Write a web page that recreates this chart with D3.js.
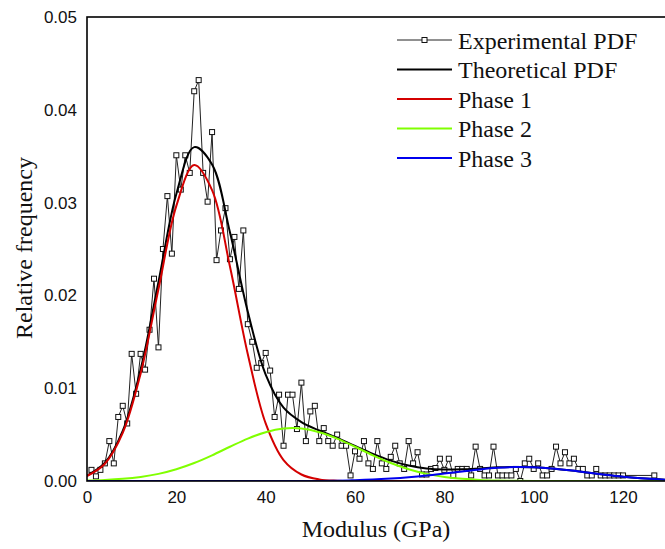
<!DOCTYPE html>
<html><head><meta charset="utf-8">
<script src="https://cdn.jsdelivr.net/npm/d3@7"></script>
<style>html,body{margin:0;padding:0;background:#fff;overflow:hidden}</style>
</head><body>
<svg id="c" width="665" height="549"></svg>
<script>
// ---- data ----
const xTicks = [0, 20, 40, 60, 80, 100, 120];
const yTicks = [0.00, 0.01, 0.02, 0.03, 0.04, 0.05];

const expModulus = [1,2,3,4,5,6,7,8,9,10,11,12,13,14,15,16,17,18,19,20,
  21,22,23,24,25,26,27,28,29,30,31,32,33,34,35,36,37,38,39,40,
  41,42,43,44,45,46,47,48,49,50,51,52,53,54,55,56,57,58,59,60,
  61,62,63,64,65,66,67,68,69,70,71,72,73,74,75,76,77,78,79,80,
  81,82,83,84,85,86,87,88,89,90,91,92,93,94,95,96,97,98,99,100,
  101,102,103,104,105,106,107,108,109,110,111,112,113,114,115,116,117,118,119,120,127];
const expFreq = [.0012,.0005,.0012,.0019,.0043,.0019,.0069,.0081,.0062,.0137,
  .0094,.0137,.0120,.0163,.0218,.0144,.0250,.0307,.0245,.0351,
  .0314,.0351,.0332,.0420,.0432,.0332,.0301,.0376,.0238,.0270,
  .0294,.0239,.0263,.0207,.0270,.0169,.0150,.0122,.0127,.0138,
  .0119,.0069,.0093,.0038,.0093,.0093,.0056,.0106,.0043,.0075,
  .0081,.0043,.0057,.0043,.0038,.0050,.0038,.0038,.0006,.0032,
  .0024,.0043,.0019,.0013,.0043,.0019,.0013,.0026,.0038,.0019,
  .0013,.0043,.0019,.0031,.0007,.0007,.0013,.0014,.0024,.0012,
  .0024,.0006,.0013,.0013,.0013,.0006,.0037,.0013,.0006,.0006,
  .0037,.0006,.0006,.0006,.0006,.0013,.0000,.0019,.0024,.0013,
  .0019,.0006,.0006,.0013,.0037,.0019,.0031,.0019,.0024,.0013,
  .0013,.0006,.0006,.0013,.0006,.0006,.0006,.0006,.0006,.0006,.0006];

const curveModulus = [0,4,8,12,16,20,24,28,32,36,40,44,48,52,56,60,64,68,72,76,
  80,84,88,92,96,100,104,108,112,116,120,124,128,132,136,140];
const theoretical = [.00059,.00197,.00541,.01201,.02145,.03092,.03598,.03411,.02680,.01823,
  .01146,.00790,.00635,.00544,.00464,.00377,.00292,.00220,.00167,.00135,
  .00124,.00126,.00136,.00147,.00152,.00147,.00135,.00115,.00091,.00067,
  .00046,.00030,.00018,.00010,.00005,.00002];
const phase1 = [.00054,.00186,.00518,.01157,.02068,.02965,.03404,.03134,.02311,.01366,
  .00620,.00225,.00070,.00017,.00003,0,0,0,0,0,
  0,0,0,0,0,0,0,0,0,0,0,0,0,0,0,0];
const phase2 = [.00005,.00011,.00023,.00044,.00077,.00127,.00194,.00277,.00369,.00457,
  .00526,.00565,.00565,.00526,.00457,.00369,.00277,.00194,.00127,.00077,
  .00044,.00023,.00011,.00005,.00002,0,0,0,0,0,0,0,0,0,0,0];
const phase3 = [0,0,0,0,0,0,0,0,0,0,
  0,0,0,.00001,.00004,.00008,.00015,.00026,.00040,.00058,
  .00080,.00103,.00125,.00142,.00150,.00147,.00135,.00115,.00091,.00067,
  .00046,.00030,.00018,.00010,.00005,.00002];

const legendLabels = ["Experimental PDF", "Theoretical PDF", "Phase 1", "Phase 2", "Phase 3"];
const seriesColors = ["#222222", "#000000", "#d40000", "#80ff00", "#0000ee"];

// ---- drawing ----
const svg = d3.select('#c');
const pL = 87, pR = 87 + 140 * 4.467, pT = 17, pB = 481;
const x = d3.scaleLinear().domain([0, 140]).range([pL, pR]);
const y = d3.scaleLinear().domain([0, 0.05]).range([pB, pT]);
const serif = '"Liberation Serif", "Times New Roman", Times, serif';

svg.append('clipPath').attr('id', 'clip').append('rect')
  .attr('x', pL).attr('y', pT).attr('width', pR - pL).attr('height', pB - pT);

const plot = svg.append('g').attr('clip-path', 'url(#clip)');

const expData = expModulus.map((m, i) => [m, expFreq[i]]);
plot.append('path').datum(expData)
  .attr('fill', 'none').attr('stroke', seriesColors[0]).attr('stroke-width', 1)
  .attr('d', d3.line().x(d => x(d[0])).y(d => y(d[1])));
plot.selectAll('rect.pt').data(expData).enter().append('rect').attr('class', 'pt')
  .attr('x', d => x(d[0]) - 2.5).attr('y', d => y(d[1]) - 2.5)
  .attr('width', 5).attr('height', 5)
  .attr('fill', '#fff').attr('stroke', '#111').attr('stroke-width', 1);

const curves = [theoretical, phase1, phase2, phase3];
curves.forEach((vals, k) => {
  const data = curveModulus.map((m, i) => [m, vals[i]]);
  plot.append('path').datum(data)
    .attr('fill', 'none').attr('stroke', seriesColors[k + 1]).attr('stroke-width', 2)
    .attr('d', d3.line().curve(d3.curveCatmullRom).x(d => x(d[0])).y(d => y(d[1])));
});

// axes
const xAxis = d3.axisBottom(x).tickValues(xTicks).tickSize(0).tickPadding(10);
const yAxis = d3.axisLeft(y).tickValues(yTicks).tickSize(0).tickPadding(10).tickFormat(d3.format('.2f'));
const gx = svg.append('g').attr('transform', `translate(0,${pB})`).call(xAxis);
const gy = svg.append('g').attr('transform', `translate(${pL},0)`).call(yAxis);
[gx, gy].forEach(g => {
  g.select('.domain').remove();
  g.selectAll('text').attr('font-family', '"Liberation Sans", Arial, sans-serif')
    .attr('font-size', 17).attr('fill', '#111');
});

// frame
svg.append('rect').attr('x', pL).attr('y', pT).attr('width', pR - pL).attr('height', pB - pT)
  .attr('fill', 'none').attr('stroke', '#000').attr('stroke-width', 1.6);

// axis titles
svg.append('text').attr('x', 376).attr('y', 537).attr('text-anchor', 'middle')
  .style('font-family', serif).attr('font-size', 24)
  .attr('fill', '#111').text('Modulus (GPa)');
svg.append('text').attr('transform', 'translate(32,248) rotate(-90)').attr('text-anchor', 'middle')
  .style('font-family', serif).attr('font-size', 24)
  .attr('fill', '#111').text('Relative frequency');

// legend
const lg = svg.append('g');
legendLabels.forEach((lab, i) => {
  const cy = 40 + i * 29.5;
  lg.append('line').attr('x1', 397).attr('x2', 452).attr('y1', cy).attr('y2', cy)
    .attr('stroke', seriesColors[i]).attr('stroke-width', i === 0 ? 1 : 2);
  if (i === 0) {
    lg.append('rect').attr('x', 422).attr('y', cy - 2.5).attr('width', 5).attr('height', 5)
      .attr('fill', '#fff').attr('stroke', '#111').attr('stroke-width', 1);
  }
  lg.append('text').attr('x', 458).attr('y', cy + 8.5)
    .style('font-family', serif).attr('font-size', 24)
    .attr('fill', '#111').text(lab);
});
</script>
</body></html>
